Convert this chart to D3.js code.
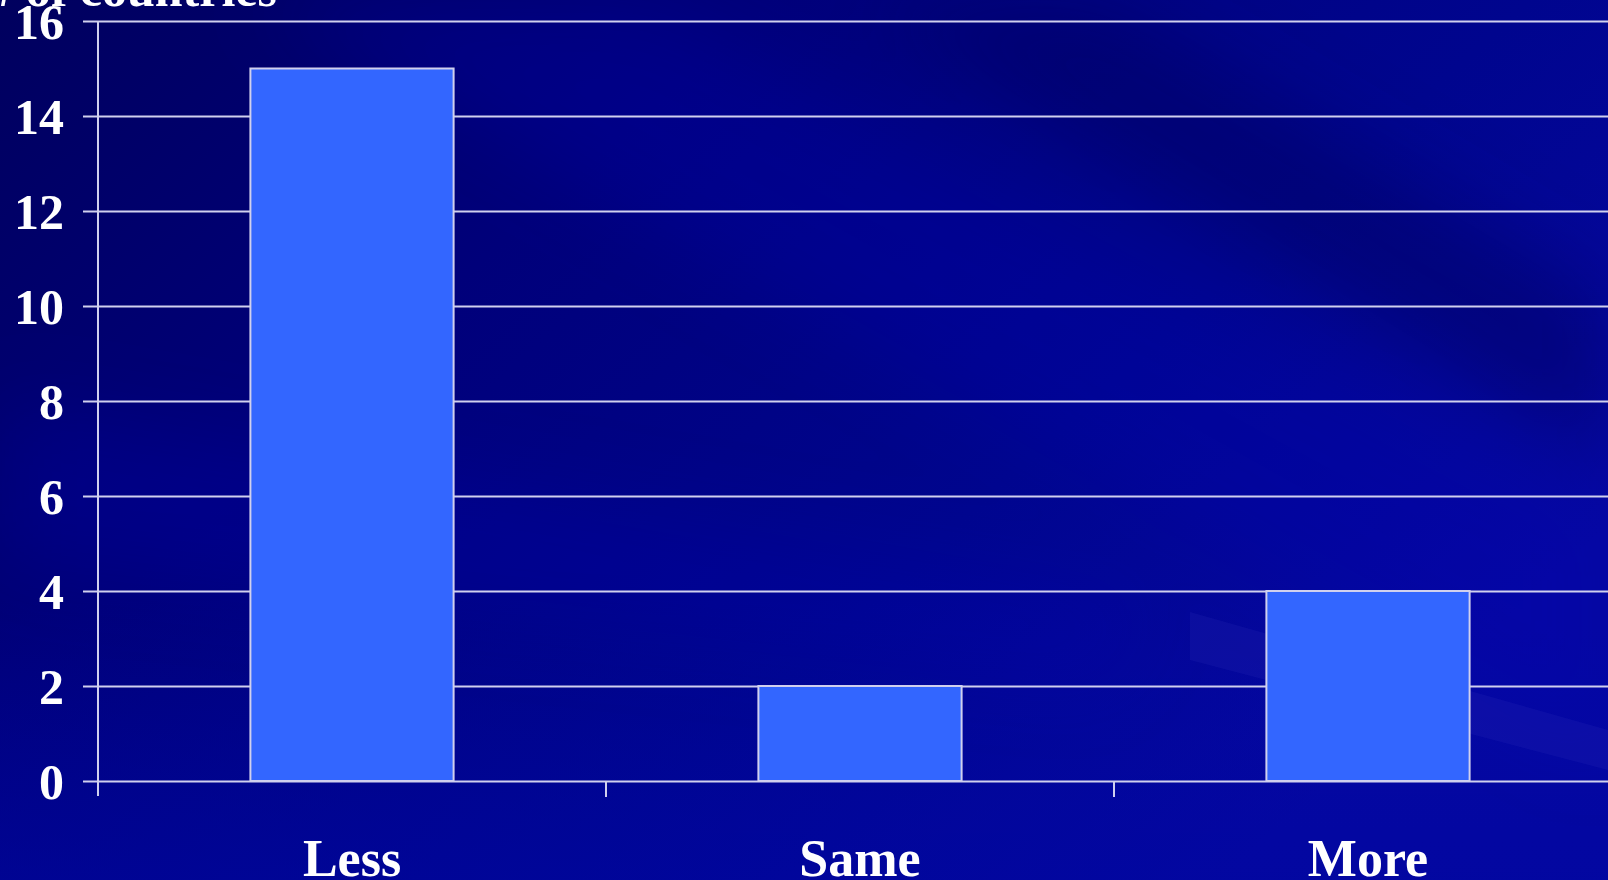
<!DOCTYPE html>
<html>
<head>
<meta charset="utf-8">
<script src="https://cdn.jsdelivr.net/npm/d3@7"></script>
<style>
    html, body { margin: 0; padding: 0; background: #000070; overflow: hidden; }
    svg text { font-family: "Liberation Serif", "Times New Roman", serif; font-weight: bold; fill: #ffffff; }
</style>
</head>
<body>
<div id="chart"></div>
<script>
// data
const categories = ["Less", "Same", "More"];
const counts = [15, 2, 4];
const yTicks = [0, 2, 4, 6, 8, 10, 12, 14, 16];
const yTitle = "# of countries";

const width = 1608, height = 880;
const margin = { top: 21, left: 98, bottom: 99 };

const svg = d3.select("#chart").append("svg")
    .attr("width", width)
    .attr("height", height);

// background: navy gradient with some soft diagonal streaks
const defs = svg.append("defs");
const bg = defs.append("linearGradient")
    .attr("id", "bg")
    .attr("x1", "0%").attr("y1", "0%")
    .attr("x2", "100%").attr("y2", "60%");
bg.append("stop").attr("offset", "0%").attr("stop-color", "#00005e");
bg.append("stop").attr("offset", "35%").attr("stop-color", "#00007a");
bg.append("stop").attr("offset", "70%").attr("stop-color", "#00058e");
bg.append("stop").attr("offset", "100%").attr("stop-color", "#0608a2");

const blur = defs.append("filter").attr("id", "soft")
    .attr("x", "-20%").attr("y", "-20%").attr("width", "140%").attr("height", "140%");
blur.append("feGaussianBlur").attr("stdDeviation", 40);

svg.append("rect")
    .attr("width", width)
    .attr("height", height)
    .attr("fill", "url(#bg)");

// lighter bottom band
const bottomGrad = defs.append("linearGradient")
    .attr("id", "bottom")
    .attr("x1", "0").attr("y1", "0").attr("x2", "0").attr("y2", "1");
bottomGrad.append("stop").attr("offset", "0%").attr("stop-color", "#0006a0").attr("stop-opacity", 0);
bottomGrad.append("stop").attr("offset", "100%").attr("stop-color", "#0006a0").attr("stop-opacity", 0.6);
svg.append("rect")
    .attr("y", 600).attr("width", width).attr("height", 280)
    .attr("fill", "url(#bottom)");

const streaks = [
    "M 250,0 L 650,0 L 1608,520 L 1608,760 Z",
    "M 850,0 L 1100,0 L 1608,300 L 1608,460 Z",
    "M 0,400 L 0,560 L 1100,680 L 1150,600 Z"
];
svg.append("g")
    .attr("filter", "url(#soft)")
    .selectAll("path")
    .data(streaks)
    .join("path")
    .attr("d", d => d)
    .attr("fill", (d, i) => i === 1 ? "#000060" : "#0510b0")
    .attr("opacity", (d, i) => i === 1 ? 0.45 : 0.25);

// faint light streak at bottom right
svg.append("path")
    .attr("d", "M 1190,612 L 1608,730 L 1608,770 L 1190,660 Z")
    .attr("fill", "#3a3ac0")
    .attr("opacity", 0.15);

// scales
const x = d3.scaleBand()
    .domain(categories)
    .range([margin.left, margin.left + 3 * 508])
    .paddingInner(0.6)
    .paddingOuter(0.3);

const y = d3.scaleLinear()
    .domain([0, 16])
    .range([height - margin.bottom, margin.top]);

const lineColor = "#d0d0ee";

// gridlines
svg.append("g")
    .attr("class", "grid")
    .attr("transform", `translate(${margin.left},0)`)
    .call(d3.axisLeft(y).tickValues(yTicks).tickSize(-(width - margin.left)).tickFormat(""))
    .call(g => g.select(".domain").remove())
    .call(g => g.selectAll("line").attr("stroke", lineColor).attr("stroke-width", 2));

// bars
svg.append("g")
    .selectAll("rect")
    .data(categories)
    .join("rect")
    .attr("x", d => x(d))
    .attr("y", (d, i) => y(counts[i]))
    .attr("width", x.bandwidth())
    .attr("height", (d, i) => y(0) - y(counts[i]))
    .attr("fill", "#3366ff")
    .attr("stroke", lineColor)
    .attr("stroke-width", 2);

// y axis
svg.append("g")
    .attr("transform", `translate(${margin.left},0)`)
    .call(d3.axisLeft(y).tickValues(yTicks).tickSize(15).tickPadding(19).tickFormat(d3.format("d")))
    .call(g => g.select(".domain").remove())
    .call(g => g.selectAll("line").attr("stroke", lineColor).attr("stroke-width", 2))
    .call(g => g.selectAll("text")
        .attr("fill", "#ffffff")
        .attr("font-size", 50)
        .attr("dy", "0.34em"));

// vertical axis line, running a little below zero
svg.append("line")
    .attr("x1", margin.left).attr("x2", margin.left)
    .attr("y1", y(16)).attr("y2", y(0) + 15)
    .attr("stroke", lineColor)
    .attr("stroke-width", 2);

// category boundary ticks
const bounds = categories.slice(1).map(c => x(c) - x.step() * x.paddingInner() / 2);
svg.append("g")
    .selectAll("line")
    .data(bounds)
    .join("line")
    .attr("x1", d => d).attr("x2", d => d)
    .attr("y1", y(0)).attr("y2", y(0) + 16)
    .attr("stroke", lineColor)
    .attr("stroke-width", 2);

// category labels
svg.append("g")
    .selectAll("text")
    .data(categories)
    .join("text")
    .attr("x", d => x(d) + x.bandwidth() / 2)
    .attr("y", 876)
    .attr("text-anchor", "middle")
    .attr("font-size", 52)
    .text(d => d);

// y axis title, cut off at the top
svg.append("text")
    .attr("x", 277)
    .attr("y", 6)
    .attr("text-anchor", "end")
    .attr("font-size", 50)
    .text(yTitle);
</script>
</body>
</html>
